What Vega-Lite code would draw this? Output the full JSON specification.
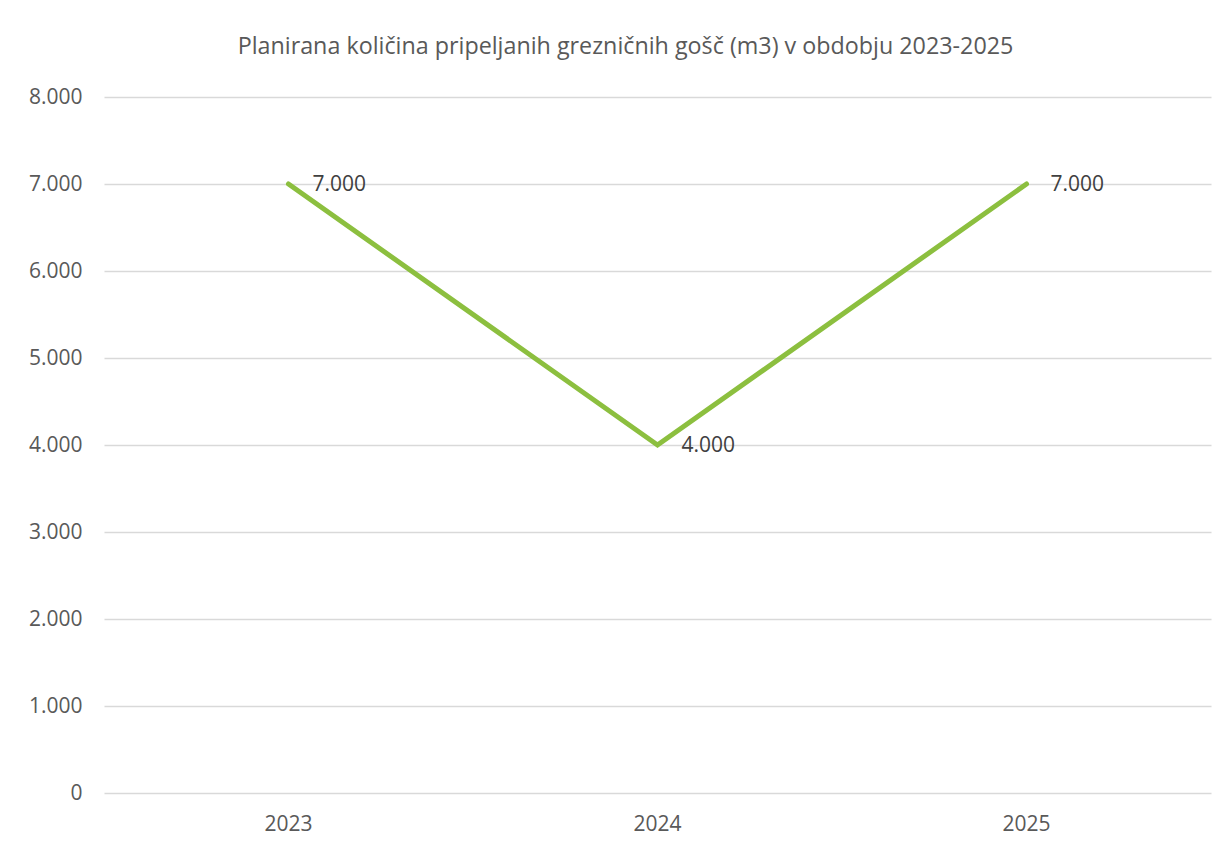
{
  "$schema": "https://vega.github.io/schema/vega-lite/v6.json",
  "width": 1107,
  "height": 696,
  "autosize": {"type": "none"},
  "padding": {"left": 104, "top": 97, "right": 17, "bottom": 54},
  "background": "white",
  "config": {
    "view": {"stroke": null},
    "font": "Open Sans",
    "locale": {"number": {"decimal": ",", "thousands": ".", "grouping": [3], "currency": ["", " €"]}}
  },
  "title": {
    "text": "Planirana količina pripeljanih grezničnih gošč (m3) v obdobju 2023-2025",
    "fontSize": 23.3,
    "fontWeight": "normal",
    "color": "#595959",
    "font": "Open Sans",
    "anchor": "middle",
    "dx": -32,
    "offset": 27
  },
  "data": {
    "values": [
      {"leto": "2023", "kolicina": 7000},
      {"leto": "2024", "kolicina": 4000},
      {"leto": "2025", "kolicina": 7000}
    ]
  },
  "encoding": {
    "x": {
      "field": "leto",
      "type": "ordinal",
      "scale": {"type": "band", "paddingInner": 0, "paddingOuter": 0},
      "axis": {
        "title": null,
        "labelAngle": 0,
        "labelFontSize": 21,
        "labelColor": "#595959",
        "labelFont": "Open Sans",
        "ticks": false,
        "domain": false,
        "labelPadding": 20,
        "grid": false
      }
    },
    "y": {
      "field": "kolicina",
      "type": "quantitative",
      "scale": {"domain": [0, 8000], "nice": false},
      "axis": {
        "title": null,
        "values": [0, 1000, 2000, 3000, 4000, 5000, 6000, 7000, 8000],
        "format": ",d",
        "labelFontSize": 21,
        "labelColor": "#595959",
        "labelFont": "Open Sans",
        "ticks": false,
        "domain": false,
        "labelPadding": 22,
        "grid": true,
        "gridColor": "#d9d9d9",
        "gridWidth": 1.5
      }
    }
  },
  "layer": [
    {
      "mark": {"type": "line", "color": "#8CBF3F", "strokeWidth": 5, "strokeCap": "round", "strokeJoin": "miter"}
    },
    {
      "mark": {"type": "text", "align": "left", "baseline": "middle", "dx": 24, "dy": 1, "fontSize": 21, "color": "#404040", "font": "Open Sans"},
      "encoding": {
        "text": {"field": "kolicina", "type": "quantitative", "format": ",.0f"}
      }
    }
  ]
}
